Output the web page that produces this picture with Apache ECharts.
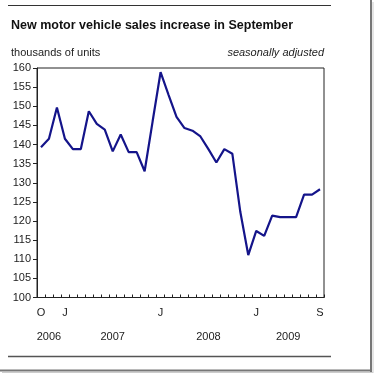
<!DOCTYPE html>
<html>
<head>
<meta charset="utf-8">
<script src="https://cdn.jsdelivr.net/npm/echarts@6/dist/echarts.min.js"></script>
<style>
html,body{margin:0;padding:0;background:#fff;}
#c{width:374px;height:373px;}
</style>
</head>
<body>
<div id="c"></div>
<script>
// Months from Oct 2006 to Sep 2009
var months = ['2006-10','2006-11','2006-12',
  '2007-01','2007-02','2007-03','2007-04','2007-05','2007-06','2007-07','2007-08','2007-09','2007-10','2007-11','2007-12',
  '2008-01','2008-02','2008-03','2008-04','2008-05','2008-06','2008-07','2008-08','2008-09','2008-10','2008-11','2008-12',
  '2009-01','2009-02','2009-03','2009-04','2009-05','2009-06','2009-07','2009-08','2009-09'];
// thousands of units, seasonally adjusted
var sales = [139.3,141.5,149.7,
  141.5,138.8,138.8,148.7,145.4,143.9,138.2,142.6,138.0,138.0,133.0,146.0,
  158.9,153.0,147.2,144.3,143.6,142.1,138.8,135.3,138.8,137.6,122.4,111.1,
  117.4,116.1,121.4,121.0,121.0,121.0,126.9,126.9,128.3];
// month tick labels
var monthLabels = {'2006-10':'O','2007-01':'J','2008-01':'J','2009-01':'J','2009-09':'S'};
// year labels (placed under the months they span)
var yearLabels = {'2006-11':'2006','2007-07':'2007','2008-07':'2008','2009-05':'2009'};
var yTicks = {min:100, max:160, step:5};

var chart = echarts.init(document.getElementById('c'), null, {renderer:'canvas'});
var font = 'Arial, "Liberation Sans", sans-serif';
chart.setOption({
  animation:false,
  backgroundColor:'#fff',
  title:[
    {text:'New motor vehicle sales increase in September', left:6, top:14,
     textStyle:{fontFamily:font, fontSize:12.5, fontWeight:'bold', color:'#111'}},
    {text:'thousands of units', left:6, top:42,
     textStyle:{fontFamily:font, fontSize:11, fontWeight:'normal', color:'#222'}},
    {text:'seasonally adjusted', right:45, top:42,
     textStyle:{fontFamily:font, fontSize:11, fontWeight:'normal', fontStyle:'italic', color:'#222'}}
  ],
  grid:{left:37, top:68, right:50, bottom:75.5, show:true, borderColor:'#222', borderWidth:1, backgroundColor:'transparent'},
  xAxis:[
    {type:'category', data:months, boundaryGap:true,
     axisLine:{lineStyle:{color:'#222', width:1}},
     axisTick:{show:true, inside:true, length:3, interval:0, lineStyle:{color:'#222'}},
     axisLabel:{interval:0, margin:10, fontFamily:font, fontSize:11, color:'#222',
       formatter:function(v){return monthLabels[v]||'';}}},
    {type:'category', data:months, boundaryGap:true, position:'bottom', offset:24,
     axisLine:{show:false}, axisTick:{show:false},
     axisLabel:{interval:0, margin:10, fontFamily:font, fontSize:11, color:'#222',
       formatter:function(v){return yearLabels[v]||'';}}}
  ],
  yAxis:{type:'value', min:yTicks.min, max:yTicks.max, interval:yTicks.step,
    splitLine:{show:false},
    axisLine:{show:true, lineStyle:{color:'#222'}},
    axisTick:{show:true, length:4, lineStyle:{color:'#222'}},
    axisLabel:{margin:6, fontFamily:font, fontSize:11, color:'#222'}},
  series:[{type:'line', data:sales, xAxisIndex:0, symbol:'none',
    lineStyle:{color:'#14148a', width:2.2}}],
  graphic:[
    {type:'line', shape:{x1:8, y1:5.5, x2:331, y2:5.5}, style:{stroke:'#333', lineWidth:1.2}},
    {type:'line', shape:{x1:8, y1:356.5, x2:331, y2:356.5}, style:{stroke:'#555', lineWidth:1.5}},
    {type:'line', shape:{x1:371, y1:0, x2:371, y2:372}, style:{stroke:'#777', lineWidth:2}},
    {type:'line', shape:{x1:0, y1:370.5, x2:372, y2:370.5}, style:{stroke:'#777', lineWidth:2}},
    {type:'line', shape:{x1:373, y1:2, x2:373, y2:373}, style:{stroke:'#ccc', lineWidth:1}},
    {type:'line', shape:{x1:2, y1:372.5, x2:373, y2:372.5}, style:{stroke:'#ccc', lineWidth:1}}
  ]
});
</script>
</body>
</html>
